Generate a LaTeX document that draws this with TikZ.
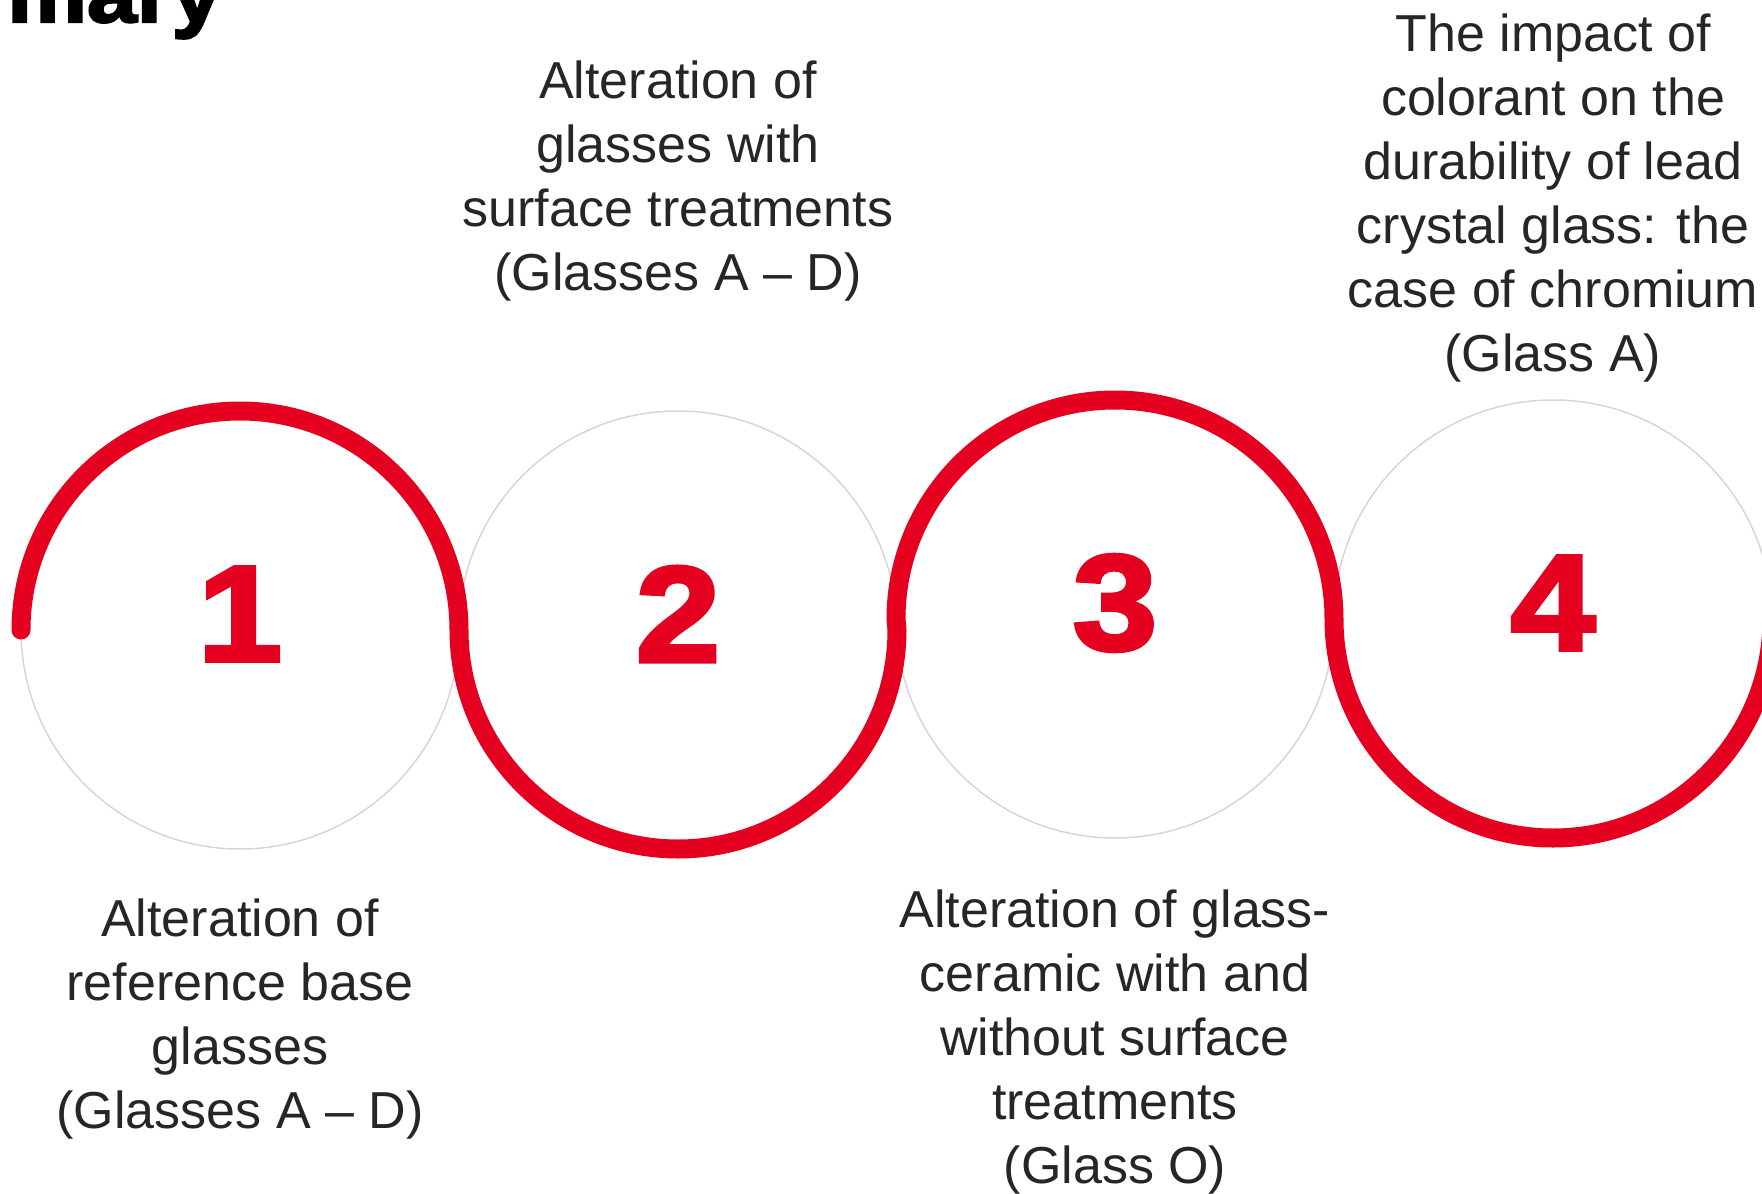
\documentclass[tikz,border=0pt]{standalone}
\usepackage{fontspec}
\setmainfont{Liberation Sans}
\newfontfamily\heavyfont{Liberation Sans Bold}[FakeBold=3, FakeStretch=1.12]
\usepackage{tikz}
\usetikzlibrary{positioning}

\definecolor{stepred}{HTML}{E4001E}
\definecolor{ringgray}{HTML}{D6D6D6}
\definecolor{textgray}{HTML}{262626}

\begin{document}
\begin{tikzpicture}[
        x=0.5pt, y=0.5pt,
        ring/.style={circle, draw=ringgray, line width=0.75pt, minimum size=219pt, inner sep=0pt, outer sep=0pt},
        num/.style={text=stepred, font=\heavyfont\fontsize{68}{68}\selectfont, inner sep=0pt, yshift=8pt},
        lbl/.style={text=textgray, align=center, inner sep=0pt, outer sep=0pt, font=\fontsize{26}{32}\selectfont},
        wave/.style={draw=stepred, line width=9.5pt, line cap=round, line join=round},
    ]
    \useasboundingbox (0,0) rectangle (1762,-1194);
    \clip (0,0) rectangle (1762,-1194);

    \node[anchor=base east, inner sep=0pt, font=\heavyfont\fontsize{40}{40}\selectfont] (title) at (222,-22) {mary};

    % the four steps
    \node[ring] (ring1) at (240,-630) {};
    \node[ring] (ring2) at (678,-630) {};
    \node[ring] (ring3) at (1115,-619) {};
    \node[ring] (ring4) at (1553,-619) {};

    \node[num] (num1) at (ring1) {1};
    \node[num] (num2) at (ring2) {2};
    \node[num] (num3) at (ring3) {3};
    \node[num] (num4) at (ring4) {4};

    % red line, over and under
    \draw[wave] (ring1.west) arc[start angle=180, end angle=0, radius=219]
        -- (ring2.west) arc[start angle=180, end angle=360, radius=219]
        -- (ring3.west) arc[start angle=180, end angle=0, radius=219]
        -- (ring4.west) arc[start angle=180, end angle=360, radius=219];

    \node[lbl, below=25pt of ring1] (lab1) {Alteration of\\ reference base\\ glasses\\ (Glasses A -- D)};
    \node[lbl, above=55pt of ring2] (lab2) {Alteration of\\ glasses with\\ surface treatments\\ (Glasses A -- D)};
    \node[lbl, below=26pt of ring3] (lab3) {Alteration of glass-\\ ceramic with and\\ without surface\\ treatments\\ (Glass O)};
    \node[lbl, above=9pt of ring4] (lab4) {The impact of\\ colorant on the\\ durability of lead\\ crystal glass: the\\ case of chromium\\ (Glass A)};
\end{tikzpicture}
\end{document}
